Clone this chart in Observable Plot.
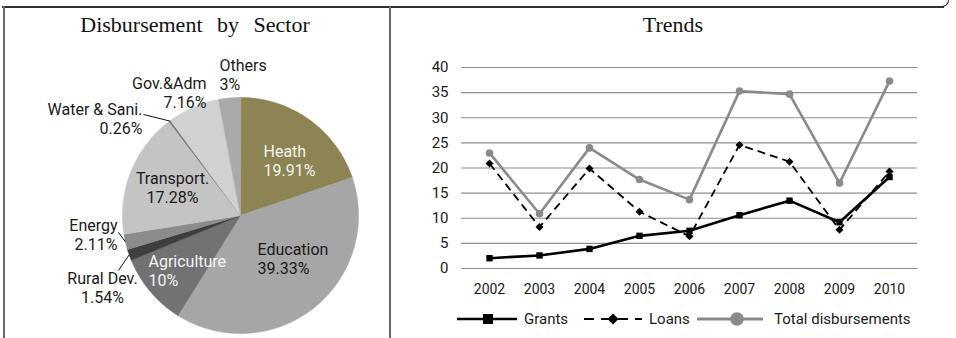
<!DOCTYPE html>
<html>
<head>
<meta charset="utf-8">
<script src="https://cdn.jsdelivr.net/npm/d3@7"></script>
<script src="https://cdn.jsdelivr.net/npm/@observablehq/plot@0.6"></script>
<style>
  html, body { margin: 0; padding: 0; background: #fff; }
  #page { position: relative; width: 956px; height: 338px; overflow: hidden; font-family: Roboto, "Noto Sans", sans-serif; color: #1a1a1a; }
  .rule { position: absolute; }
  .panel { position: absolute; top: 0; height: 338px; }
  .title { position: absolute; left: 0; right: 0; top: 14px; text-align: center; font-family: "Liberation Serif", "Times New Roman", serif; font-size: 22px; line-height: 22px; color: #111; }
  .chart { position: absolute; left: 0; top: 40px; }
  .legend { position: absolute; top: 300px; height: 38px; left: 0; right: 0; }
  .legend .item { position: absolute; top: 0; height: 38px; display: flex; align-items: center; font-size: 15px; color: #1a1a1a; }
  .legend svg { display: block; }
</style>
</head>
<body>
<div id="page">
  <div class="rule" style="left:2px; top:6px; width:942px; height:1.5px; background:#2e2e2e;"></div>
  <div class="rule" style="left:938px; top:-10px; width:10px; height:16px; border-right:1.5px solid #2e2e2e; border-bottom:1.5px solid #2e2e2e; border-bottom-right-radius:7px;"></div>
  <div class="rule" style="left:3px; top:6px; width:1.5px; height:332px; background:#6a6a6a;"></div>
  <div class="rule" style="left:389px; top:6px; width:1.5px; height:332px; background:#6a6a6a;"></div>

  <div class="panel" id="left" style="left:0; width:390px;">
    <div class="title" style="word-spacing:9px;">Disbursement by Sector</div>
    <div class="chart" id="pie"></div>
  </div>

  <div class="panel" id="right" style="left:390px; width:566px;">
    <div class="title">Trends</div>
    <div class="chart" id="trend"></div>
    <div class="legend" id="legend"></div>
  </div>
</div>
<script>
// ---- Disbursement by sector (percent of total) ----
const sectors = ["Heath", "Education", "Agriculture", "Rural Dev.", "Energy", "Transport.", "Water & Sani.", "Gov.&Adm", "Others"];
const shares = [19.91, 39.33, 10, 1.54, 2.11, 17.28, 0.26, 7.16, 3];
const shareLabels = ["19.91%", "39.33%", "10%", "1.54%", "2.11%", "17.28%", "0.26%", "7.16%", "3%"];

// ---- Yearly disbursements ----
const years = ["2002", "2003", "2004", "2005", "2006", "2007", "2008", "2009", "2010"];
const grants = [2.05, 2.6, 3.9, 6.5, 7.5, 10.6, 13.5, 9.2, 18.2];
const loans = [20.9, 8.25, 19.9, 11.3, 6.4, 24.6, 21.25, 7.7, 19.3];
const totals = [23.0, 10.9, 24.0, 17.7, 13.7, 35.3, 34.7, 17.0, 37.3];
const yTicks = [0, 5, 10, 15, 20, 25, 30, 35, 40];

// ---- Styling ----
const sectorColors = ["#8d8454", "#a6a6a6", "#727272", "#3e3e3e", "#8b8b8b", "#c4c4c4", "#767676", "#d1d1d1", "#aaaaaa"];
// label placement in pie-radius units (x right, y up), text anchor, text colour
const labelLayout = [
  {dx: 0.195, dy: 0.466, anchor: "start", color: "#f4f4f0"},
  {dx: 0.144, dy: -0.364, anchor: "start", color: "#1a1a1a"},
  {dx: -0.78, dy: -0.466, anchor: "start", color: "#f4f4f4"},
  {dx: -1.169, dy: -0.61, anchor: "middle", color: "#1a1a1a", lead: [-1.034, -0.466]},
  {dx: -1.042, dy: -0.161, anchor: "end", color: "#1a1a1a", lead: [-1.034, -0.144]},
  {dx: -0.576, dy: 0.237, anchor: "middle", color: "#1a1a1a"},
  {dx: -0.831, dy: 0.826, anchor: "end", color: "#1a1a1a", lead: [-0.822, 0.856]},
  {dx: -0.288, dy: 1.047, anchor: "end", color: "#1a1a1a"},
  {dx: -0.178, dy: 1.195, anchor: "start", color: "#1a1a1a"}
];

// ---- Pie geometry from the shares ----
const arcs = d3.pie().sort(null).value(d => d)(shares);
const piePts = [];
arcs.forEach((a, i) => {
  const n = Math.max(2, Math.ceil((a.endAngle - a.startAngle) / 0.01));
  piePts.push({sector: sectors[i], x: 0, y: 0});
  for (let k = 0; k <= n; k++) {
    const t = a.startAngle + (a.endAngle - a.startAngle) * k / n;
    piePts.push({sector: sectors[i], x: Math.sin(t), y: Math.cos(t)});
  }
});
const colorOf = Object.fromEntries(sectors.map((s, i) => [s, sectorColors[i]]));

const pieLabels = sectors.map((s, i) => ({
  text: s + "\n" + shareLabels[i],
  x: labelLayout[i].dx, y: labelLayout[i].dy,
  anchor: labelLayout[i].anchor, color: labelLayout[i].color
}));
const leaders = [];
arcs.forEach((a, i) => {
  const L = labelLayout[i].lead;
  if (!L) return;
  const mid = (a.startAngle + a.endAngle) / 2;
  leaders.push({x1: Math.sin(mid) * 1.0, y1: Math.cos(mid) * 1.0, x2: L[0], y2: L[1]});
});

const R = 118;
const pieW = 390, pieH = 298, cx = 240, cy = 175;
const textMark = anchor => Plot.text(pieLabels.filter(d => d.anchor === anchor), {
  x: "x", y: "y", text: "text", fill: "color", textAnchor: anchor, lineAnchor: "middle",
  fontSize: 16, lineHeight: 1.2, fontFamily: "Roboto, sans-serif"
});

const pie = Plot.plot({
  width: pieW, height: pieH,
  marginLeft: cx - R, marginRight: pieW - cx - R,
  marginTop: cy - R, marginBottom: pieH - cy - R,
  x: {domain: [-1, 1], axis: null},
  y: {domain: [-1, 1], axis: null},
  color: {type: "identity"},
  style: {overflow: "visible", background: "transparent"},
  marks: [
    Plot.line(piePts, {x: "x", y: "y", z: "sector", fill: d => colorOf[d.sector], stroke: d => colorOf[d.sector], strokeWidth: 0.6, curve: "linear-closed"}),
    Plot.link(leaders, {x1: "x1", y1: "y1", x2: "x2", y2: "y2", stroke: "#111", strokeWidth: 1}),
    textMark("start"), textMark("middle"), textMark("end")
  ]
});
document.getElementById("pie").append(pie);

// ---- Trend lines ----
const series = [
  {name: "Total disbursements", values: totals},
  {name: "Loans", values: loans},
  {name: "Grants", values: grants}
];
const rows = series.flatMap(s => years.map((yr, i) => ({series: s.name, year: yr, value: s.values[i]})));
const only = name => rows.filter(d => d.series === name);

const trend = Plot.plot({
  width: 566, height: 260,
  marginLeft: 71, marginRight: 39, marginTop: 27, marginBottom: 32,
  x: {type: "point", domain: years, padding: 0.5},
  y: {domain: [0, 40]},
  style: {fontFamily: "Roboto, sans-serif", color: "#1a1a1a", overflow: "visible", background: "transparent"},
  marks: [
    Plot.ruleY(yTicks, {stroke: "#8e8e8e", strokeWidth: 1.2}),
    Plot.axisX({tickSize: 0, tickPadding: 16, fontSize: 14, label: null}),
    Plot.axisY({ticks: yTicks, tickSize: 0, tickPadding: 13, fontSize: 15, label: null}),
    Plot.line(only("Total disbursements"), {x: "year", y: "value", stroke: "#8a8a8a", strokeWidth: 2.6}),
    Plot.dot(only("Total disbursements"), {x: "year", y: "value", r: 3.8, fill: "#8a8a8a", symbol: "circle"}),
    Plot.line(only("Loans"), {x: "year", y: "value", stroke: "#000", strokeWidth: 1.8, strokeDasharray: "8,5", strokeLinecap: "butt"}),
    Plot.dot(only("Loans"), {x: "year", y: "value", r: 3.6, fill: "#000", symbol: "diamond2"}),
    Plot.line(only("Grants"), {x: "year", y: "value", stroke: "#000", strokeWidth: 2.6}),
    Plot.dot(only("Grants"), {x: "year", y: "value", r: 3.6, fill: "#000", symbol: "square"})
  ]
});
document.getElementById("trend").append(trend);

// ---- Legend ----
const legend = document.getElementById("legend");
const ns = "http://www.w3.org/2000/svg";
function swatch(w, draw) {
  const svg = document.createElementNS(ns, "svg");
  svg.setAttribute("width", w); svg.setAttribute("height", 20);
  svg.innerHTML = draw;
  return svg;
}
const legendItems = [
  {left: 67, gap: 7, label: "Grants",
   svg: swatch(60, '<line x1="0" y1="10" x2="60" y2="10" stroke="#000" stroke-width="2.6"/><rect x="26" y="5" width="10" height="10" fill="#000"/>')},
  {left: 194, gap: 7, label: "Loans",
   svg: swatch(58, '<line x1="0" y1="10" x2="58" y2="10" stroke="#000" stroke-width="1.8" stroke-dasharray="10,7"/><path d="M29,4.5 L34.5,10 L29,15.5 L23.5,10 Z" fill="#000"/>')},
  {left: 307, gap: 11, label: "Total disbursements",
   svg: swatch(66, '<line x1="0" y1="10" x2="66" y2="10" stroke="#8a8a8a" stroke-width="3"/><circle cx="40" cy="10" r="6.8" fill="#8a8a8a"/>')}
];
legendItems.forEach(it => {
  const div = document.createElement("div");
  div.className = "item";
  div.style.left = it.left + "px";
  div.append(it.svg);
  const span = document.createElement("span");
  span.textContent = it.label;
  span.style.marginLeft = it.gap + "px";
  div.append(span);
  legend.append(div);
});
</script>
</body>
</html>
